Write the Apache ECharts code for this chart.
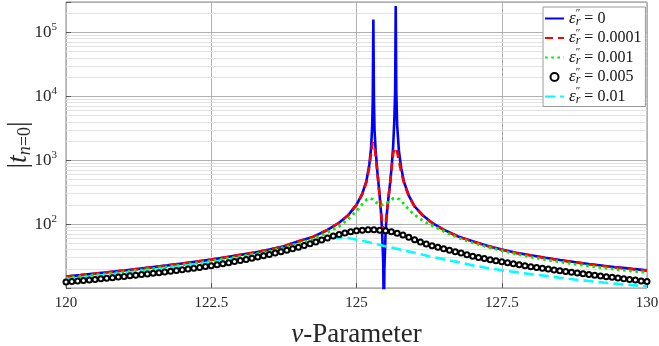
<!DOCTYPE html>
<html><head><meta charset="utf-8">
<script src="https://cdn.jsdelivr.net/npm/echarts@6/dist/echarts.min.js"></script>
<style>html,body{margin:0;padding:0;background:#fff}#c{width:659px;height:346px}</style>
</head><body><div id="c"></div>
<script>
// ---- data ----
const xTicks = [120, 122.5, 125, 127.5, 130];
const yDecades = [100, 1000, 10000, 100000];
const legendNames = ['0', '0.0001', '0.001', '0.005', '0.01'];

const blueNu = [120,120.25,120.5,120.75,121,121.25,121.5,121.75,122,122.25,122.5,122.75,123,123.25,123.5,123.75,124,124.25,124.5,124.7,124.85,125,125.1,125.17,125.22,125.25,125.27,125.28,125.29,125.3,125.31,125.33,125.36,125.38,125.4,125.42,125.44,125.46,125.47,125.48,125.5,125.52,125.55,125.58,125.61,125.63,125.65,125.665,125.675,125.685,125.7,125.73,125.77,125.82,125.9,126,126.15,126.3,126.5,126.75,127,127.25,127.5,127.75,128,128.25,128.5,128.75,129,129.25,129.5,129.75,130];
const blueVal = [15.1,15.9,16.8,17.8,18.8,19.9,21.2,22.6,24.2,25.9,27.8,30.2,33,36,40,45,54,63,81,105,136,200,300,470,850,1500,3500,9000,160000,9000,3000,1400,650,420,270,160,80,25,3,20,70,140,260,450,900,1600,4000,12000,260000,12000,3500,1400,750,450,280,190,135,105,82,64,54,46,40,35.5,32.5,29.8,27.5,25.5,23.8,22.3,21,19.9,18.9];

const redNu = [120,120.25,120.5,120.75,121,121.25,121.5,121.75,122,122.25,122.5,122.75,123,123.25,123.5,123.75,124,124.25,124.5,124.7,124.85,125,125.1,125.17,125.22,125.25,125.27,125.28,125.29,125.3,125.31,125.33,125.36,125.38,125.4,125.42,125.44,125.46,125.47,125.48,125.5,125.52,125.55,125.58,125.61,125.63,125.65,125.665,125.675,125.685,125.7,125.73,125.77,125.82,125.9,126,126.15,126.3,126.5,126.75,127,127.25,127.5,127.75,128,128.25,128.5,128.75,129,129.25,129.5,129.75,130];
const redVal = [15.1,15.9,16.8,17.8,18.8,19.9,21.2,22.6,24.2,25.9,27.8,30.2,33,36,40,45,54,63,81,105,136,200,295,450,780,1250,1700,1900,2000,1900,1650,1150,620,410,265,165,105,80,75,78,95,145,260,440,850,1250,1500,1600,1600,1550,1350,1000,650,430,275,188,134,104,81.5,63.5,53.5,45.6,39.7,35.2,32.2,29.5,27.2,25.2,23.5,22.1,20.8,19.7,18.7];

const greenNu = [120,120.5,121,121.5,122,122.5,123,123.5,124,124.25,124.5,124.7,124.85,125,125.1,125.18,125.23,125.28,125.35,125.43,125.5,125.58,125.63,125.68,125.74,125.8,125.9,126,126.15,126.3,126.5,126.75,127,127.25,127.5,127.75,128,128.25,128.5,128.75,129,129.25,129.5,129.75,130];
const greenVal = [14.3,16.0,17.9,20.2,23.0,26.5,31.2,37.6,50,58,74,92,118,160,205,245,254,245,215,198,205,235,252,257,245,215,170,140,112,95,77,61,51,44,38.5,34,30.5,27.8,25.6,23.7,22.1,20.7,19.4,18.4,17.5];

const blackNu = [120,120.1,120.2,120.3,120.4,120.5,120.6,120.7,120.8,120.9,121,121.1,121.2,121.3,121.4,121.5,121.6,121.7,121.8,121.9,122,122.1,122.2,122.3,122.4,122.5,122.6,122.7,122.8,122.9,123,123.1,123.2,123.3,123.4,123.5,123.6,123.7,123.8,123.9,124,124.1,124.2,124.3,124.4,124.5,124.6,124.7,124.8,124.9,125,125.1,125.2,125.3,125.4,125.5,125.6,125.7,125.8,125.9,126,126.1,126.2,126.3,126.4,126.5,126.6,126.7,126.8,126.9,127,127.1,127.2,127.3,127.4,127.5,127.6,127.7,127.8,127.9,128,128.1,128.2,128.3,128.4,128.5,128.6,128.7,128.8,128.9,129,129.1,129.2,129.3,129.4,129.5,129.6,129.7,129.8,129.9,130];
const blackVal = [12.4,12.6,12.9,13.1,13.4,13.6,13.9,14.2,14.5,14.8,15.1,15.5,15.8,16.2,16.6,17.0,17.4,17.8,18.3,18.8,19.3,19.9,20.4,21.0,21.7,22.4,23.2,24.0,24.9,25.9,26.9,28.0,29.2,30.5,31.9,33.5,35.2,37.0,39.0,41.2,43.6,46.2,49.2,52.5,56.5,60.8,65.0,69.0,72.4,75.8,78.5,80.3,81.3,81.4,80.4,78.5,75.9,72.0,67.6,62.2,56.9,52.7,49.0,46.0,43.5,41.2,39.0,37.0,35.2,33.3,31.3,30.1,28.9,27.8,26.7,25.7,24.8,23.9,23.1,22.3,21.6,21.0,20.4,19.8,19.2,18.6,18.1,17.6,17.1,16.7,16.2,15.8,15.4,15.0,14.7,14.3,14.0,13.6,13.3,12.9,12.6];

const cyanNu = [120,120.5,121,121.5,122,122.5,123,123.5,123.75,124,124.25,124.5,124.65,124.8,125,125.25,125.5,125.75,126,126.25,126.5,126.75,127,127.25,127.5,127.75,128,128.25,128.5,128.75,129,129.25,129.5,129.75,130];
const cyanVal = [13.7,15.3,17.1,19.3,22.0,25.3,29.7,35.5,39.5,44.5,51,58,61.5,61.5,57.5,51,45,40,35.5,31.5,28.3,25.4,22.6,20.6,19.0,17.7,16.5,15.5,14.5,13.6,12.9,12.2,11.6,11.1,10.6];

const minorGrid = [20,30,40,50,60,70,80,90,200,300,400,500,600,700,800,900,2000,3000,4000,5000,6000,7000,8000,9000,20000,30000,40000,50000,60000,70000,80000,90000,200000];

// ---- chart ----
const serif = '"Liberation Serif", "DejaVu Serif", serif';
const zip = (a, b) => a.map((x, i) => [x, b[i]]);
const chart = echarts.init(document.getElementById('c'), null, {renderer: 'canvas'});

const lineSeries = (name, nu, val, color, width, type) => ({
  name, type: 'line', data: zip(nu, val), symbol: 'none', z: 2,
  lineStyle: {color, width, type, cap: 'butt'}, itemStyle: {color},
  clip: true, silent: true
});

chart.setOption({
  animation: false,
  grid: {left: 66, right: 12, top: 2, bottom: 58, show: true, borderColor: '#8a8a8a', borderWidth: 1,
    backgroundColor: '#fff', containLabel: false, outerBoundsMode: 'none'},
  xAxis: {
    type: 'value', min: xTicks[0], max: xTicks[xTicks.length - 1], interval: 2.5,
    axisLine: {show: false},
    axisTick: {inside: true, length: 5, lineStyle: {color: '#555'}},
    axisLabel: {fontFamily: serif, fontSize: 15, color: '#262626', margin: 8,
      formatter: v => String(v)},
    splitLine: {show: true, lineStyle: {color: '#b0b0b0', width: 1}},
    name: '{i|ν}-Parameter', nameLocation: 'middle', nameGap: 33, nameMoveOverlap: false,
    nameTextStyle: {fontFamily: serif, fontSize: 27, color: '#262626',
      rich: {i: {fontFamily: serif, fontStyle: 'italic', fontSize: 27, color: '#262626'}}}
  },
  yAxis: {
    type: 'log', logBase: 10, min: 10, max: 300000,
    axisLine: {show: false},
    axisTick: {inside: true, length: 5, lineStyle: {color: '#555'}},
    axisLabel: {
      margin: 9, color: '#262626',
      formatter: v => {
        const e = Math.round(Math.log10(v));
        if (!yDecades.some(d => Math.abs(d - v) < 1e-6 * d)) return '';
        return '{b|10}{s|' + e + '}';
      },
      rich: {
        b: {fontFamily: serif, fontSize: 17, color: '#262626'},
        s: {fontFamily: serif, fontSize: 11, color: '#262626', padding: [0, 0, 10, 0]}
      }
    },
    splitLine: {show: true, lineStyle: {color: '#b0b0b0', width: 1}},
    name: '{p||}{t|t}{n|n}{q|=0}{p||}', nameLocation: 'middle', nameRotate: 90, nameGap: 32,
    nameMoveOverlap: false,
    nameTextStyle: {
      fontFamily: serif, fontSize: 26, color: '#262626',
      rich: {
        p: {fontFamily: serif, fontSize: 28, color: '#262626'},
        t: {fontFamily: serif, fontStyle: 'italic', fontSize: 28, color: '#262626'},
        n: {fontFamily: serif, fontStyle: 'italic', fontSize: 18, color: '#262626', padding: [12, 0, 0, 0]},
        q: {fontFamily: serif, fontSize: 18, color: '#262626', padding: [12, 0, 0, 0]}
      }
    }
  },
  legend: {
    data: legendNames.map((n, i) => i === 3 ? {name: n} : {name: n, itemStyle: {opacity: 0}}),
    orient: 'vertical', left: 543, top: 7, z: 10,
    backgroundColor: '#fff', borderColor: '#9a9a9a', borderWidth: 1, borderRadius: 0,
    padding: [1, 4, 1, 1], itemWidth: 19, itemHeight: 10, itemGap: 0,
    formatter: n => '{e|ε}{p|″}{r|r}{t| = ' + n + '}',
    textStyle: {
      fontFamily: serif, fontSize: 16, color: '#111',
      rich: {
        e: {fontFamily: serif, fontStyle: 'italic', fontSize: 17, color: '#111', lineHeight: 18},
        p: {fontFamily: serif, fontSize: 11, color: '#111', width: 0, padding: [0, 0, 10, 0]},
        r: {fontFamily: serif, fontStyle: 'italic', fontSize: 12, color: '#111', padding: [6, 0, 0, 0]},
        t: {fontFamily: serif, fontSize: 16, color: '#111', lineHeight: 18}
      }
    }
  },
  series: [
    {name: 'minor', type: 'line', data: [], z: 1, silent: true,
     markLine: {silent: true, z: 1, symbol: 'none', label: {show: false}, animation: false,
       lineStyle: {color: '#e2e2e2', width: 1, type: 'solid'},
       data: minorGrid.map(v => ({yAxis: v}))}},
    lineSeries('0', blueNu, blueVal, '#0000ff', 2.6, 'solid'),
    lineSeries('0.0001', redNu, redVal, '#ff0000', 2.6, [8, 5]),
    lineSeries('0.001', greenNu, greenVal, '#00ee00', 2.8, [2.6, 3.6]),
    {name: '0.005', type: 'line', data: zip(blackNu, blackVal), z: 2, silent: true,
     symbol: 'emptyCircle', symbolSize: 5, showSymbol: true, showAllSymbol: true,
     lineStyle: {width: 0, color: '#000'},
     itemStyle: {color: '#000', borderColor: '#000', borderWidth: 1.8}},
    lineSeries('0.01', cyanNu, cyanVal, '#00ffff', 2.6, [10, 5])
  ]
});
</script></body></html>
